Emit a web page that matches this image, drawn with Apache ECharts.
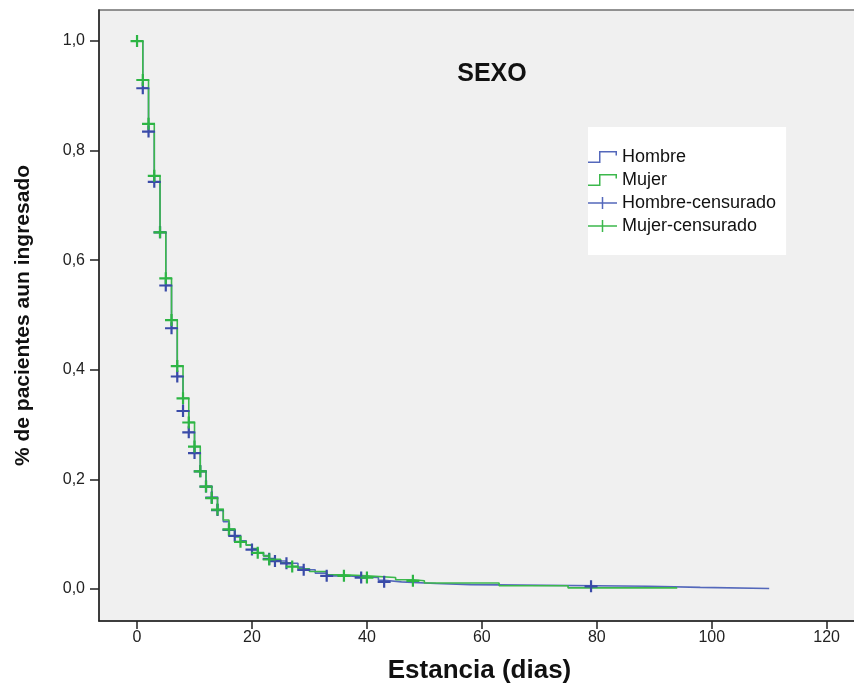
<!DOCTYPE html>
<html>
<head>
<meta charset="utf-8">
<script src="https://cdn.jsdelivr.net/npm/echarts@6/dist/echarts.min.js"></script>
<style>
  html, body { margin: 0; padding: 0; background: #ffffff; }
  #chart { width: 854px; height: 686px; }
</style>
</head>
<body>
<div id="chart"></div>
<script>
// Kaplan-Meier estimates: step times (days) and survival after each step
const hombreTimes = [0, 1, 2, 3, 4, 5, 6, 7, 8, 9, 10, 11, 12, 13, 14, 15, 16, 17, 18, 19, 20, 21, 22, 23, 24, 26, 28, 29, 31, 33, 37, 39, 42, 43, 46, 52, 58, 89, 98, 110];
const hombreSurv  = [1.0, 0.914, 0.835, 0.743, 0.651, 0.554, 0.476, 0.388, 0.325, 0.286, 0.248, 0.215, 0.187, 0.167, 0.144, 0.123, 0.108, 0.097, 0.088, 0.080, 0.072, 0.066, 0.061, 0.055, 0.051, 0.047, 0.040, 0.035, 0.029, 0.024, 0.022, 0.021, 0.016, 0.013, 0.010, 0.008, 0.005, 0.003, 0.001, 0.001];

const mujerTimes = [0, 1, 2, 3, 4, 5, 6, 7, 8, 9, 10, 11, 12, 13, 14, 15, 16, 17, 18, 19, 20, 21, 22, 23, 25, 27, 28, 30, 33, 36, 40, 45, 48, 50, 63, 75, 94];
const mujerSurv  = [1.0, 0.929, 0.849, 0.754, 0.651, 0.567, 0.491, 0.407, 0.348, 0.304, 0.260, 0.215, 0.187, 0.166, 0.145, 0.126, 0.109, 0.095, 0.086, 0.080, 0.074, 0.066, 0.060, 0.054, 0.048, 0.041, 0.037, 0.032, 0.026, 0.024, 0.021, 0.017, 0.015, 0.011, 0.006, 0.002, 0.002];

// Censored observation times
const hombreCensored = [1, 2, 3, 4, 5, 6, 7, 8, 9, 10, 11, 12, 13, 14, 16, 17, 20, 23, 24, 26, 29, 33, 39, 43, 79];
const mujerCensored  = [0, 1, 2, 3, 4, 5, 6, 7, 8, 9, 10, 11, 12, 13, 14, 16, 18, 21, 23, 27, 36, 40, 48];

// Axis tick labels
const xTicks = [0, 20, 40, 60, 80, 100, 120];
const yTicks = [0, 0.2, 0.4, 0.6, 0.8, 1.0];

const seriesNames = ['Hombre', 'Mujer', 'Hombre-censurado', 'Mujer-censurado'];

const BLUE_LINE = '#5468bb';
const BLUE_MARK = '#3a4ba8';
const GREEN_LINE = '#3cb84c';
const GREEN_MARK = '#2db544';

function pairs(ts, ss) {
  return ts.map((t, i) => [t, ss[i]]);
}

// survival value of the step curve at time t
function survAt(ts, ss, t) {
  let v = ss[0];
  for (let i = 0; i < ts.length; i++) {
    if (ts[i] <= t) v = ss[i]; else break;
  }
  return v;
}

function censorPoints(cens, ts, ss) {
  return cens.map(t => [t, survAt(ts, ss, t)]);
}

const plusSymbol = 'path://M0,5h13v2.2h-13z M5.4,0h2.2v12h-2.2z';
const stepIcon = 'path://M0,10.5h12.5v1.5h-12.5z M11,0h1.5v12h-1.5z M11,0h18v1.5h-18z M27.5,0h1.5v4.5h-1.5z';
const censIcon = 'path://M0,5.25h29v1.5h-29z M13.75,0h1.5v12h-1.5z';

const FONT = '"Liberation Sans", Arial, sans-serif';

const chart = echarts.init(document.getElementById('chart'), null, { renderer: 'canvas' });

chart.setOption({
  backgroundColor: '#ffffff',
  animation: false,
  title: {
    text: 'SEXO',
    left: 487,
    top: 57,
    textAlign: 'center',
    textStyle: { fontFamily: FONT, fontWeight: 'bold', fontSize: 25, color: '#111' }
  },
  legend: {
    left: 588,
    top: 127,
    orient: 'vertical',
    backgroundColor: '#ffffff',
    padding: [21, 10, 20, 0],
    itemGap: 5,
    itemWidth: 29,
    itemHeight: 12,
    textStyle: { fontFamily: FONT, fontSize: 18, color: '#111' },
    data: [
      { name: seriesNames[0], icon: stepIcon, itemStyle: { color: BLUE_LINE } },
      { name: seriesNames[1], icon: stepIcon, itemStyle: { color: GREEN_LINE } },
      { name: seriesNames[2], icon: censIcon, itemStyle: { color: BLUE_LINE } },
      { name: seriesNames[3], icon: censIcon, itemStyle: { color: GREEN_LINE } }
    ]
  },
  grid: {
    left: 99,
    top: 10,
    right: -6,
    bottom: 65,
    outerBoundsMode: 'none',
    containLabel: false,
    show: true,
    backgroundColor: '#f0f0f0',
    borderColor: '#707070',
    borderWidth: 1.5
  },
  xAxis: {
    type: 'value',
    min: -6.62,
    max: 125.8,
    name: 'Estancia (dias)',
    nameLocation: 'middle',
    nameGap: 37,
    nameTextStyle: { fontFamily: FONT, fontWeight: 'bold', fontSize: 26, color: '#111' },
    axisLine: { show: true, onZero: false, lineStyle: { color: '#222', width: 1.5 } },
    axisTick: { show: true, length: 8, customValues: xTicks, lineStyle: { color: '#222', width: 1.5 } },
    axisLabel: {
      customValues: xTicks,
      margin: 9,
      fontFamily: FONT, fontSize: 16, color: '#222'
    },
    splitLine: { show: false }
  },
  yAxis: {
    type: 'value',
    min: -0.0584,
    max: 1.0566,
    name: '% de pacientes aun ingresado',
    nameLocation: 'middle',
    nameGap: 65,
    nameRotate: 90,
    nameTextStyle: { fontFamily: '"Liberation Sans Narrow", ' + FONT, fontWeight: 'bold', fontSize: 21, color: '#111' },
    axisLine: { show: true, onZero: false, lineStyle: { color: '#222', width: 1.5 } },
    axisTick: { show: true, length: 9, customValues: yTicks, lineStyle: { color: '#222', width: 1.5 } },
    axisLabel: {
      customValues: yTicks,
      margin: 14,
      fontFamily: FONT, fontSize: 16, color: '#222',
      formatter: v => v.toFixed(1).replace('.', ',')
    },
    splitLine: { show: false }
  },
  series: [
    {
      name: seriesNames[0],
      type: 'line',
      step: 'end',
      data: pairs(hombreTimes, hombreSurv),
      showSymbol: false,
      lineStyle: { color: BLUE_LINE, width: 1.6 },
      itemStyle: { color: BLUE_LINE },
      z: 2
    },
    {
      name: seriesNames[1],
      type: 'line',
      step: 'end',
      data: pairs(mujerTimes, mujerSurv),
      showSymbol: false,
      lineStyle: { color: GREEN_LINE, width: 1.6 },
      itemStyle: { color: GREEN_LINE },
      z: 2
    },
    {
      name: seriesNames[2],
      type: 'scatter',
      data: censorPoints(hombreCensored, hombreTimes, hombreSurv),
      symbol: plusSymbol,
      symbolSize: [13, 12],
      itemStyle: { color: BLUE_MARK, opacity: 1 },
      z: 3
    },
    {
      name: seriesNames[3],
      type: 'scatter',
      data: censorPoints(mujerCensored, mujerTimes, mujerSurv),
      symbol: plusSymbol,
      symbolSize: [13, 12],
      itemStyle: { color: GREEN_MARK, opacity: 1 },
      z: 3
    }
  ]
});
</script>
</body>
</html>
